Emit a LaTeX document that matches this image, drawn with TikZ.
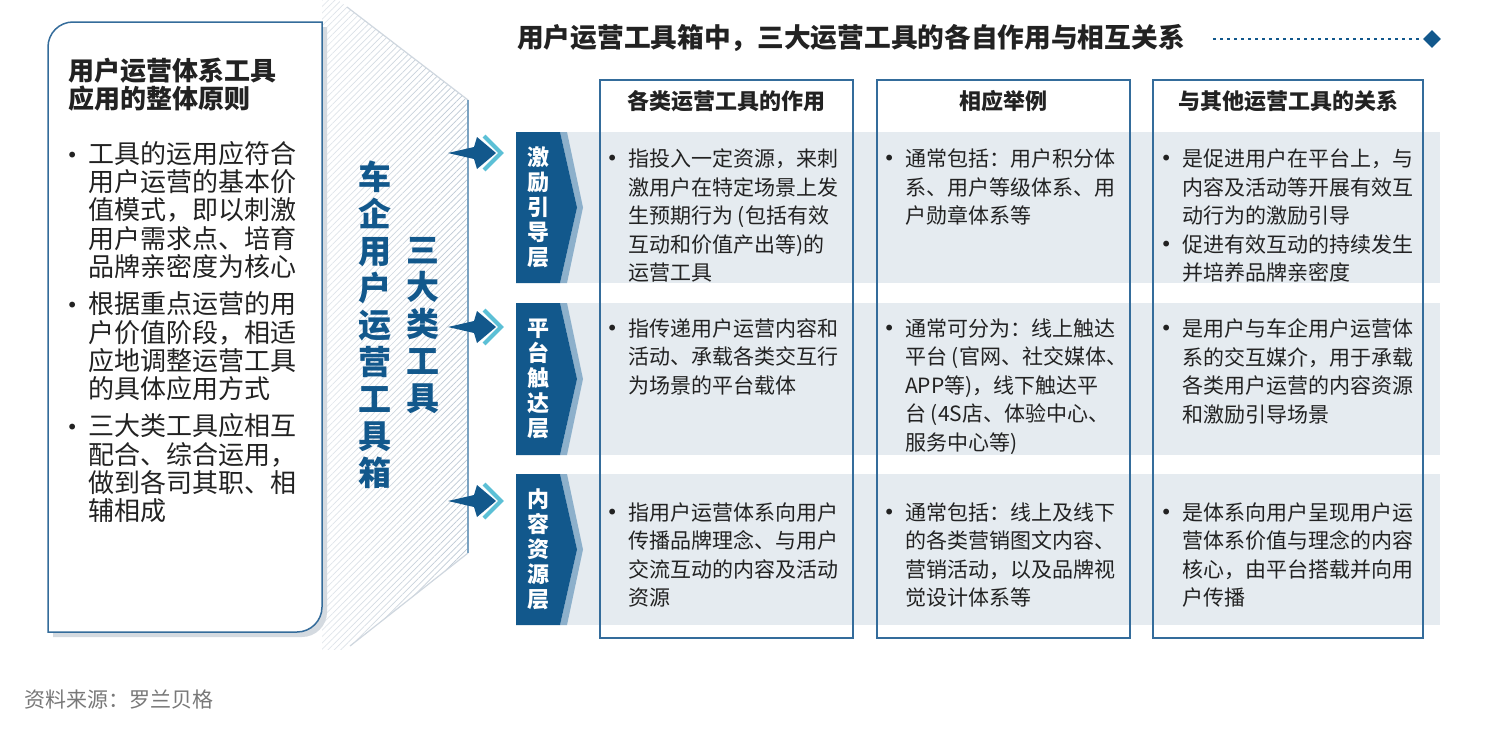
\documentclass[tikz,border=0pt]{standalone}
\usepackage{fontspec}
\setmainfont{Noto Sans CJK SC}
\newfontfamily\dotfont{DejaVu Sans}
\usetikzlibrary{patterns.meta,fadings,shadows,shapes.geometric}

\definecolor{navy}{RGB}{18,88,140}
\definecolor{band}{RGB}{229,235,240}
\definecolor{frame}{RGB}{52,108,155}
\definecolor{steel}{RGB}{141,176,203}
\definecolor{aqua}{RGB}{92,192,214}
\definecolor{ink}{RGB}{34,34,34}
\definecolor{hatch}{RGB}{186,198,210}
\definecolor{shade}{RGB}{212,218,224}
\definecolor{note}{RGB}{120,120,120}

\tikzfading[name=hatchfade, left color=transparent!60, right color=transparent!0]
\newcommand{\bul}{\hspace*{0pt}\llap{\raisebox{1pt}{\dotfont\fontsize{20}{20}\selectfont •}\hspace{10pt}}}

\begin{document}
\begin{tikzpicture}[x=1pt,y=-1pt,
        every node/.style={inner sep=0pt,text=ink},
        body/.style={anchor=north west,align=left,font=\fontsize{21}{28.5}\selectfont},
        head/.style={font=\bfseries\fontsize{22}{26}\selectfont},
        layer/.style={align=center,text=white,font=\bfseries\fontsize{22}{25}\selectfont},
        upright/.style={align=center,text=navy,font=\bfseries\fontsize{33}{37}\selectfont},
        column/.style={draw=frame,line width=1.2pt}]
        \fill[white] (0,0) rectangle (1498,736);
        \useasboundingbox (0,0) rectangle (1498,736);

        % hatched chevron behind the principles box
        \fill[pattern={Lines[angle=45,distance=4.5pt,line width=0.7pt]},pattern color=hatch,path fading=hatchfade]
                (322,0) -- (338,0) -- (468,100) -- (468,553) -- (345,650) -- (322,650) -- cycle;
        \draw[hatch!70,line width=1.2pt] (347,7) -- (468,100);
        \draw[hatch!70,line width=1.2pt] (468,553) -- (350,646);
        \draw[steel!85!navy,line width=1.5pt] (468,100) -- (468,553);

        % principles box
        \draw[frame,line width=1.5pt,fill=white,drop shadow={shadow xshift=5pt,shadow yshift=-5pt,fill=shade,opacity=1}]
                (48,632) -- (48,47) .. controls (48,33.2) and (59.2,22) .. (73,22) -- (322,22) -- (322,607)
                .. controls (322,620.8) and (310.8,632) .. (297,632) -- cycle;
        \node[anchor=north west,align=left,font=\bfseries\fontsize{26}{27.5}\selectfont] (principle) at (68,58) {用户运营体系工具\\应用的整体原则};
        \node[anchor=north west,align=left,font=\fontsize{26}{28.3}\selectfont] (rules) at (88,141)
                {\bul 工具的运用应符合\\用户运营的基本价\\值模式，即以刺激\\用户需求点、培育\\品牌亲密度为核心\\[9pt]
                 \bul 根据重点运营的用\\户价值阶段，相适\\应地调整运营工具\\的具体应用方式\\[9pt]
                 \bul 三大类工具应相互\\配合、综合运用，\\做到各司其职、相\\辅相成};

        \node[upright] (kit) at (375,325) {车\\企\\用\\户\\运\\营\\工\\具\\箱};
        \node[upright] (three) at (423,326) {三\\大\\类\\工\\具};

        % title
        \node[anchor=west,font=\bfseries\fontsize{26.7}{30}\selectfont] (title) at (517,38) {用户运营工具箱中，三大运营工具的各自作用与相互关系};
        \node[diamond,fill=navy,minimum size=18pt] (tip) at (1432,39) {};
        \draw[navy,line width=2.5pt,dash pattern=on 2.5pt off 4.5pt] (1213,39) -- (tip);

        % row bands and columns
        \foreach \t/\b in {132/283,303/455,474/625}
                \fill[band] (560,\t) rectangle (1440,\b);
        \draw[column] (600,80) rectangle (853,638);
        \draw[column] (877,80) rectangle (1130,638);
        \draw[column] (1153,80) rectangle (1423,638);
        \node[head] (roleh) at (726.5,101) {各类运营工具的作用};
        \node[head] (caseh) at (1003.5,101) {相应举例};
        \node[head] (linkh) at (1288,101) {与其他运营工具的关系};

        % layer labels
        \foreach \t/\m/\b/\txt [count=\i] in {132/207.5/283/激\\励\\引\\导\\层,303/379/455/平\\台\\触\\达\\层,474/549.5/625/内\\容\\资\\源\\层}{
                \fill[steel] (560,\t) -- (567,\t) -- (583,\m) -- (567,\b) -- (560,\b) -- (577,\m) -- cycle;
                \fill[navy] (516,\t) -- (560,\t) -- (577,\m) -- (560,\b) -- (516,\b) -- cycle;
                \node[layer] (layer\i) at (538,\m) {\txt};
        }

        % arrows
        \foreach \y in {153,327,501}{
                \draw[aqua,line width=4pt,line join=miter] (484,\y-17) -- (501,\y) -- (484,\y+17);
                \fill[navy] (448,\y) -- (474,\y-6) -- (477,\y-16) -- (496,\y) -- (477,\y+16) -- (474,\y+6) -- cycle;
        }

        % cells
        \node[body] (roleA) at (628,149) {\bul 指投入一定资源，来刺\\激用户在特定场景上发\\生预期行为 (包括有效\\互动和价值产出等)的\\运营工具};
        \node[body] (caseA) at (905,149) {\bul 通常包括：用户积分体\\系、用户等级体系、用\\户勋章体系等};
        \node[body] (linkA) at (1182,149) {\bul 是促进用户在平台上，与\\内容及活动等开展有效互\\动行为的激励引导\\\bul 促进有效互动的持续发生\\并培养品牌亲密度};

        \node[body] (roleB) at (628,318.5) {\bul 指传递用户运营内容和\\活动、承载各类交互行\\为场景的平台载体};
        \node[body] (caseB) at (905,318.5) {\bul 通常可分为：线上触达\\平台 (官网、社交媒体、\\APP等)，线下触达平\\台 (4S店、体验中心、\\服务中心等)};
        \node[body] (linkB) at (1182,318.5) {\bul 是用户与车企用户运营体\\系的交互媒介，用于承载\\各类用户运营的内容资源\\和激励引导场景};

        \node[body] (roleC) at (628,502.5) {\bul 指用户运营体系向用户\\传播品牌理念、与用户\\交流互动的内容及活动\\资源};
        \node[body] (caseC) at (905,502.5) {\bul 通常包括：线上及线下\\的各类营销图文内容、\\营销活动，以及品牌视\\觉设计体系等};
        \node[body] (linkC) at (1182,502.5) {\bul 是体系向用户呈现用户运\\营体系价值与理念的内容\\核心，由平台搭载并向用\\户传播};

        \node[anchor=west,text=note,font=\fontsize{21}{24}\selectfont] (source) at (24,700) {资料来源：罗兰贝格};
\end{tikzpicture}
\end{document}
